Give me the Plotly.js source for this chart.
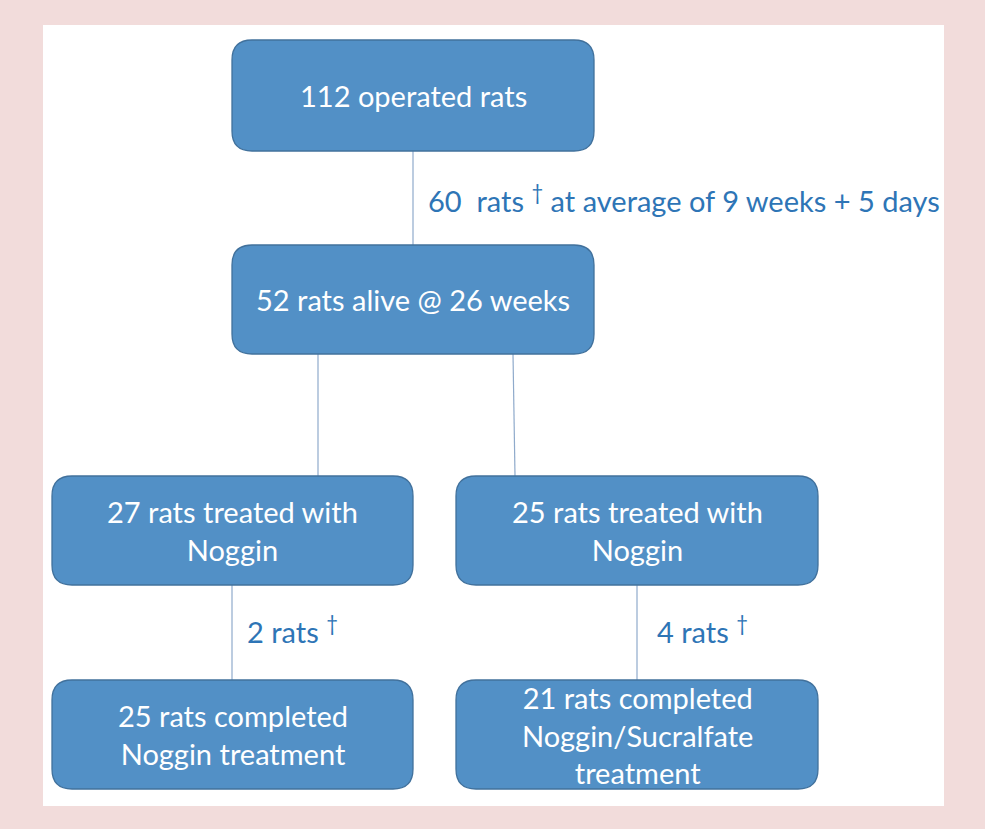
<!DOCTYPE html>
<html><head><meta charset="utf-8">
<script src="https://cdn.plot.ly/plotly-3.0.1.min.js"></script>
<style>html,body{margin:0;padding:0;background:#F2DCDB;}</style>
</head><body>
<div id="chart" style="width:985px;height:829px;"></div>
<script>
// ---- data ----
const boxLabels = [
  "112 operated rats",
  "52 rats alive @ 26 weeks",
  "27 rats treated with<br>Noggin",
  "25 rats treated with<br>Noggin",
  "25 rats completed<br>Noggin treatment",
  "21 rats completed<br>Noggin/Sucralfate<br>treatment"
];
const boxCounts = [112, 52, 27, 25, 25, 21];
const lossLabels = [
  "60\u00A0 rats \u2020 at average of 9 weeks + 5 days",
  "2 rats \u2020",
  "4 rats \u2020"
];
const lossCounts = [60, 2, 4];

// ---- layout geometry (pixels) ----
const boxes = [
  {x0:232, x1:594, y0:40,  y1:151},
  {x0:232, x1:594, y0:245, y1:354},
  {x0:52,  x1:413, y0:476, y1:585},
  {x0:456, x1:818, y0:476, y1:585},
  {x0:52,  x1:413, y0:680, y1:789},
  {x0:456, x1:818, y0:680, y1:789}
];
const links = [
  {xa:413, ya:151, xb:413, yb:245},
  {xa:318, ya:354, xb:318, yb:476},
  {xa:513, ya:354, xb:515, yb:476},
  {xa:232, ya:585, xb:232, yb:680},
  {xa:637, ya:585, xb:637, yb:680}
];
const lossPos = [
  {x:426, y:199},
  {x:245, y:630},
  {x:655, y:630}
];

function roundRect(b, r){
  return `M${b.x0+r},${b.y0} L${b.x1-r},${b.y0} Q${b.x1},${b.y0} ${b.x1},${b.y0+r} `+
         `L${b.x1},${b.y1-r} Q${b.x1},${b.y1} ${b.x1-r},${b.y1} L${b.x0+r},${b.y1} `+
         `Q${b.x0},${b.y1} ${b.x0},${b.y1-r} L${b.x0},${b.y0+r} Q${b.x0},${b.y0} ${b.x0+r},${b.y0} Z`;
}

const shapes = [];
shapes.push({type:'rect', xref:'x', yref:'y', x0:43, x1:944, y0:25, y1:806,
  fillcolor:'#FFFFFF', line:{width:0}, layer:'below'});
links.forEach(l => shapes.push({type:'line', x0:l.xa, y0:l.ya, x1:l.xb, y1:l.yb,
  line:{color:'#8FAACB', width:1.2}}));
boxes.forEach(b => shapes.push({type:'path', path:roundRect(b, 20),
  fillcolor:'#5290C6', line:{color:'#41719C', width:1.3}}));

const font = "Lato, 'Open Sans', sans-serif";
const annotations = [];
boxLabels.forEach((t,i) => {
  const b = boxes[i];
  annotations.push({x:(b.x0+b.x1)/2, y:(b.y0+b.y1)/2, text:t, showarrow:false,
    xanchor:'center', yanchor:'middle', align:'center',
    font:{family:font, size:29, color:'#FFFFFF'}});
});
lossLabels.forEach((t,i) => {
  const txt = t.replace('\u2020', '<sup>\u2020</sup>');
  annotations.push({x:lossPos[i].x, y:lossPos[i].y, text:txt, showarrow:false,
    xanchor:'left', yanchor:'middle', align:'left',
    font:{family:font, size:29, color:'#2E75B6'}});
});

const layout = {
  width:985, height:829,
  margin:{l:0, r:0, t:0, b:0},
  paper_bgcolor:'#F2DCDB', plot_bgcolor:'rgba(0,0,0,0)',
  xaxis:{range:[0,985], visible:false, fixedrange:true},
  yaxis:{range:[829,0], visible:false, fixedrange:true},
  showlegend:false,
  shapes:shapes,
  annotations:annotations
};
Plotly.newPlot('chart', [{x:[], y:[], type:'scatter', hoverinfo:'skip'}], layout, {staticPlot:true, displayModeBar:false});
</script>
</body></html>
